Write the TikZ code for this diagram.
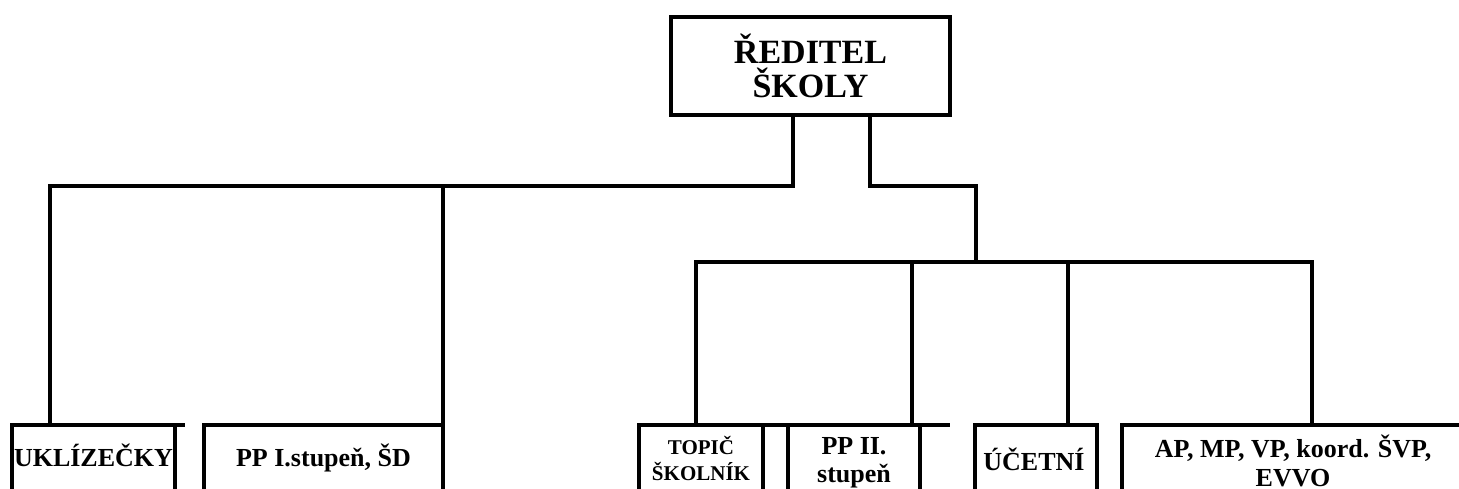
\documentclass[tikz,border=0pt]{standalone}
\usepackage{fontspec}
\setmainfont{Liberation Serif}
\begin{document}
\begin{tikzpicture}[x=1pt,y=-1pt,line width=4pt]
  \tikzstyle{unit}=[draw,outer sep=0pt,inner sep=0pt,minimum height=140pt,anchor=north west];
  \tikzstyle{lbl}=[font=\bfseries\fontsize{26}{29}\selectfont,align=center,anchor=base,inner sep=0pt];
  \useasboundingbox (0,0) rectangle (1459,489);
  \clip (0,0) rectangle (1459,489);
  % head of school
  \node[draw,outer sep=0pt,minimum width=279pt,minimum height=98pt,align=center,
        font=\bfseries\fontsize{34}{34}\selectfont] (reditel) at (810.5,66) {ŘEDITEL\\ŠKOLY};
  % staff boxes
  \node[unit,minimum width=163pt] (ukl) at (12,425) {};
  \node[unit,minimum width=239pt] (ppjedna) at (204,425) {};
  \node[unit,minimum width=124pt] (topic) at (639,425) {};
  \node[unit,minimum width=132pt] (ppdva) at (788,425) {};
  \node[unit,minimum width=122pt] (ucetni) at (975,425) {};
  \node[unit,minimum width=348pt] (ap) at (1122,425) {};
  \draw (ukl.north east) -- ++(10,0);
  \draw (topic.north east) -- (ppdva.north west);
  \draw (ppdva.north east) -- ++(30,0);
  % texts (base = last line)
  \node[lbl] at (93.5,466) {UKLÍZEČKY};
  \node[lbl] at (323.5,466) {PP I.stupeň, ŠD};
  \node[lbl,font=\bfseries\fontsize{21}{26}\selectfont] at (701,480) {TOPIČ\\ŠKOLNÍK};
  \node[lbl,font=\bfseries\fontsize{26}{28}\selectfont] at (854,482) {PP II.\\stupeň};
  \node[lbl] at (1034,470) {ÚČETNÍ};
  \node[lbl] at (1293,486) {AP, MP, VP, koord. ŠVP,\\EVVO};
  % branch points
  \coordinate (hL) at (793,186);
  \coordinate (hR) at (870,186);
  \coordinate (bL) at (50,186);
  \coordinate (bM) at (443,186);
  \coordinate (jR) at (976,186);
  \coordinate (jD) at (976,262);
  \coordinate (dT) at (696,262);
  \coordinate (dP) at (912,262);
  \coordinate (dU) at (1068,262);
  \coordinate (dA) at (1312,262);
  % connectors
  \draw (reditel.south -| hL) -- (hL) -- (bL) -- (bL |- ukl.north);
  \draw (bM) -- (ppjedna.north east);
  \draw (reditel.south -| hR) -- (hR) -- (jR) -- (jD);
  \draw (dT |- topic.north) -- (dT) -- (dA) -- (dA |- ap.north);
  \draw (dP) -- (dP |- ppdva.north);
  \draw (dU) -- (dU |- ucetni.north);
\end{tikzpicture}
\end{document}
